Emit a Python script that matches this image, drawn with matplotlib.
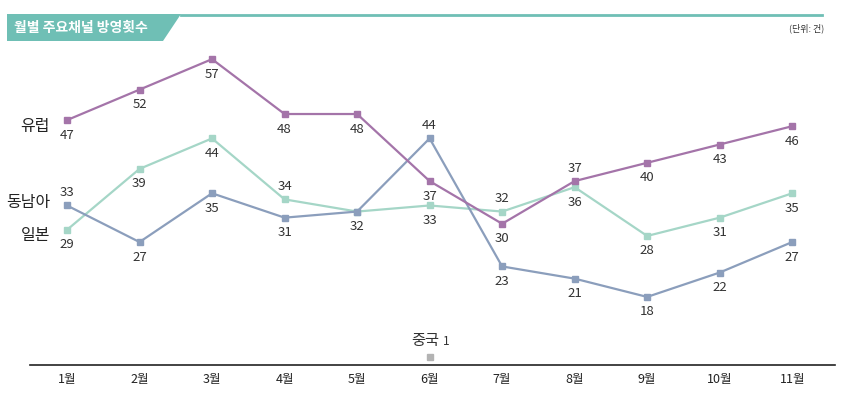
import matplotlib
matplotlib.use('Agg')
import matplotlib.pyplot as plt
import numpy as np
from matplotlib.patches import Polygon
from matplotlib.lines import Line2D

plt.rcParams['font.family'] = ['Noto Sans CJK KR', 'DejaVu Sans']

# data
months = ['1월', '2월', '3월', '4월', '5월', '6월', '7월', '8월', '9월', '10월', '11월']
europe = [47, 52, 57, 48, 48, 37, 30, 37, 40, 43, 46]
sea = [33, 27, 35, 31, 32, 44, 23, 21, 18, 22, 27]
japan = [29, 39, 44, 34, 32, 33, 32, 36, 28, 31, 35]
china_month = 6
china_value = 1

# which labels sit above the point / are left out (shared label at 5월)
europe_above = [7]
sea_above = [0, 5]
japan_above = [3, 6]
japan_hidden = [4]

c_eu = '#a474a9'
c_sea = '#8b9ebc'
c_jp = '#a5d6c7'
c_cn = '#b3b3b3'
teal = '#6fbfb5'


# squeeze values below 15 so the china point sits just above the axis
def fwd(v):
    v = np.asarray(v, dtype=float)
    return np.where(v >= 15, v, 15 - (15 - v) * 0.489)


def inv(v):
    v = np.asarray(v, dtype=float)
    return np.where(v >= 15, v, 15 - (15 - v) / 0.489)


fig = plt.figure(figsize=(8.43, 3.93), dpi=100)
ax = fig.add_axes([30 / 843, 28 / 393, 805 / 843, 315 / 393])
ax.set_yscale('function', functions=(fwd, inv))
ax.set_xlim(0.49, 11.59)
ax.set_ylim(-1.7, 58.5)

x = list(range(1, len(months) + 1))

series = [(japan, c_jp, japan_above, japan_hidden),
          (sea, c_sea, sea_above, []),
          (europe, c_eu, europe_above, [])]
for vals, col, above, hidden in series:
    ax.plot(x, vals, color=col, lw=1.6, marker='s', ms=5, zorder=3)
    for i, v in enumerate(vals):
        if i in hidden:
            continue
        dy = 13 if i in above else -15
        ax.annotate(str(v), (x[i], v), xytext=(0, dy), textcoords='offset pixels',
                    ha='center', va='center', fontsize=9.5, color='#333333')

# china single point
ax.plot([china_month], [china_value], marker='s', ms=4, color=c_cn, ls='none')
ax.annotate('중국', (china_month, china_value), xytext=(-4, 16), textcoords='offset pixels',
            ha='center', va='center', fontsize=11, color='#333333')
ax.annotate('1', (china_month, china_value), xytext=(17, 15), textcoords='offset pixels',
            ha='center', va='center', fontsize=8.5, color='#333333')

# series names on the left
for name, v, dy in [('유럽', europe[0], -6), ('동남아', sea[0], 3), ('일본', japan[0], -6)]:
    ax.annotate(name, (1, v), xytext=(-17, dy), textcoords='offset pixels',
                ha='right', va='center', fontsize=11.5, color='#222222')

ax.set_xticks(x)
ax.set_xticklabels(months, fontsize=9, color='#222222')
ax.tick_params(axis='x', length=0, pad=6)
ax.set_yticks([])
for s in ['top', 'left', 'right']:
    ax.spines[s].set_visible(False)
ax.spines['bottom'].set_linewidth(1.2)
ax.spines['bottom'].set_color('#222222')

# title banner
W, H = 843, 393


def fp(px, py):
    return (px / W, 1 - py / H)


banner = Polygon([fp(7, 14), fp(181, 14), fp(163, 41), fp(7, 41)], closed=True,
                 transform=fig.transFigure, facecolor=teal, edgecolor='none')
fig.patches.append(banner)
fig.lines.append(Line2D([181 / W, 822 / W], [1 - 14.5 / H, 1 - 14.5 / H], transform=fig.transFigure,
                        color=teal, lw=2))
fig.text(14 / W, 1 - 28 / H, '월별 주요채널 방영횟수', color='white', fontsize=10,
         fontweight='bold', ha='left', va='center')
fig.text(824 / W, 1 - 28 / H, '(단위: 건)', color='#333333', fontsize=6.5, ha='right', va='center')

fig.savefig('out.png', dpi=100)
